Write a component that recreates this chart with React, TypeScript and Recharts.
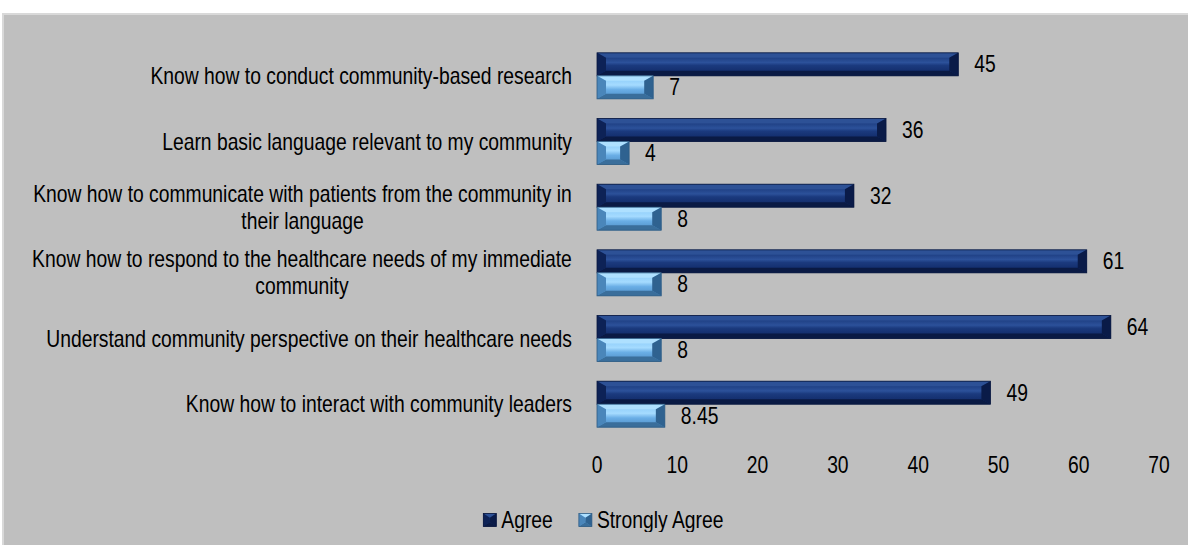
import React from "react";
import { BarChart, Bar, XAxis, YAxis, Legend, LabelList } from "recharts";

const FONT = "'Liberation Sans', Arial, sans-serif";
const FS = 23;
const SX = 0.84;

const categories = [
  "Know how to conduct community-based research",
  "Learn basic language relevant to my community",
  "Know how to communicate with patients from the community in\ntheir language",
  "Know how to respond to the healthcare needs of my immediate\ncommunity",
  "Understand community perspective on their healthcare needs",
  "Know how to interact with community leaders",
];
const agree = [45, 36, 32, 61, 64, 49];
const stronglyAgree = [7, 4, 8, 8, 8, 8.45];
const xTicks = [0, 10, 20, 30, 40, 50, 60, 70];
const seriesNames = ["Agree", "Strongly Agree"];

const data = categories.map((c, i) => ({ category: c, agree: agree[i], strong: stronglyAgree[i] }));

const PALETTES: Record<string, any> = {
  agree: { grad: "gAgree", top: "#2d5196", bottom: "#0a1a44", left: "#0d2256", right: "#0a1b48", stroke: "#0a183f" },
  strong: { grad: "gStrong", top: "#aee0ff", bottom: "#3a6e9b", left: "#4a86ba", right: "#2f6290", stroke: "#2f5b82" },
};

const BevelBar = (props: any) => {
  const { x, y, width, height, pal } = props;
  if (!width || width <= 0) return null;
  const p = PALETTES[pal];
  const bv = Math.min(5, height / 3);
  const bh = Math.min(9, width / 2);
  const x2 = x + width;
  const y2 = y + height;
  return (
    <g>
      <rect x={x} y={y} width={width} height={height} fill={`url(#${p.grad})`} />
      <polygon points={`${x},${y} ${x2},${y} ${x2 - bh},${y + bv} ${x + bh},${y + bv}`} fill={p.top} />
      <polygon points={`${x},${y2} ${x2},${y2} ${x2 - bh},${y2 - bv} ${x + bh},${y2 - bv}`} fill={p.bottom} />
      <polygon points={`${x},${y} ${x + bh},${y + bv} ${x + bh},${y2 - bv} ${x},${y2}`} fill={p.left} />
      <polygon points={`${x2},${y} ${x2 - bh},${y + bv} ${x2 - bh},${y2 - bv} ${x2},${y2}`} fill={p.right} />
      <rect x={x} y={y} width={width} height={height} fill="none" stroke={p.stroke} strokeWidth={0.8} />
    </g>
  );
};

let measureCtx: CanvasRenderingContext2D | null = null;
const measure = (t: string) => {
  if (!measureCtx) {
    measureCtx = document.createElement("canvas").getContext("2d");
  }
  if (!measureCtx) return t.length * FS * 0.5 * SX;
  measureCtx.font = `${FS}px ${FONT}`;
  return measureCtx.measureText(t).width * SX;
};

// narrow text: regular sans compressed horizontally
const NText = ({ x, y, anchor, dy, children }: any) => (
  <g transform={`translate(${x},${y}) scale(${SX},1)`}>
    <text x={0} y={0} dy={dy} textAnchor={anchor} fontSize={FS} fontFamily={FONT} fill="#000">
      {children}
    </text>
  </g>
);

const CategoryTick = (props: any) => {
  const { x, y, payload } = props;
  const lines: string[] = String(payload.value).split("\n");
  if (lines.length === 1) {
    return <NText x={x} y={y} dy="0.35em" anchor="end">{lines[0]}</NText>;
  }
  const w = Math.max(...lines.map(measure));
  const cx = x - w / 2;
  const lh = 27;
  const start = y - ((lines.length - 1) * lh) / 2;
  return (
    <g>
      {lines.map((l, i) => (
        <NText key={i} x={cx} y={start + i * lh} dy="0.35em" anchor="middle">
          {l}
        </NText>
      ))}
    </g>
  );
};

const ValueTick = (props: any) => {
  const { x, y, payload } = props;
  return <NText x={x} y={y} dy="0.71em" anchor="middle">{payload.value}</NText>;
};

const ValueLabel = (props: any) => {
  const { x, y, width, height, value } = props;
  return (
    <NText x={x + width + 16} y={y + height / 2} dy="0.35em" anchor="start">
      {value}
    </NText>
  );
};

const LegendContent = () => {
  const sq = 13;
  const gap = 5;
  const itemGap = 26;
  const w1 = measure(seriesNames[0]);
  const w2 = measure(seriesNames[1]);
  const total = sq + gap + w1 + itemGap + sq + gap + w2;
  const cx = 604;
  const x0 = cx - total / 2;
  const x1 = x0 + sq + gap + w1 + itemGap;
  return (
    <svg width={1188} height={24} style={{ display: "block" }}>
      <BevelBar x={x0} y={5.5} width={sq} height={sq} pal="agree" />
      <NText x={x0 + sq + gap} y={12} dy="0.35em" anchor="start">{seriesNames[0]}</NText>
      <BevelBar x={x1} y={5.5} width={sq} height={sq} pal="strong" />
      <NText x={x1 + sq + gap} y={12} dy="0.35em" anchor="start">{seriesNames[1]}</NText>
    </svg>
  );
};

export default function App() {
  return (
    <div style={{ position: "absolute", left: 0, top: 0, width: 1188, height: 545, background: "#fff", overflow: "hidden" }}>
      <div
        style={{
          position: "absolute",
          left: 2,
          top: 13,
          width: 1190,
          height: 540,
          background: "#bfbfbf",
          borderTop: "2px solid #d9d9d9",
          borderLeft: "2px solid #d9d9d9",
        }}
      />
      <div style={{ position: "absolute", left: 0, top: 0 }}>
        <BarChart
          width={1188}
          height={545}
          data={data}
          layout="vertical"
          margin={{ top: 43, right: 29, bottom: 13, left: 0 }}
          barGap={0}
          barCategoryGap="15%"
        >
          <defs>
            <linearGradient id="gAgree" x1="0" y1="0" x2="0" y2="1">
              <stop offset="0" stopColor="#13306f" />
              <stop offset="0.42" stopColor="#2c519a" />
              <stop offset="0.55" stopColor="#1b3a7e" />
              <stop offset="1" stopColor="#0e2560" />
            </linearGradient>
            <linearGradient id="gStrong" x1="0" y1="0" x2="0" y2="1">
              <stop offset="0" stopColor="#86c8f7" />
              <stop offset="0.4" stopColor="#a5dbff" />
              <stop offset="0.6" stopColor="#6aaee6" />
              <stop offset="1" stopColor="#4d8cc3" />
            </linearGradient>
          </defs>
          <XAxis
            type="number"
            domain={[0, 70]}
            ticks={xTicks}
            axisLine={false}
            tickLine={false}
            tickSize={0}
            tickMargin={20}
            height={71}
            tick={<ValueTick />}
            interval={0}
          />
          <YAxis
            type="category"
            dataKey="category"
            width={597}
            axisLine={false}
            tickLine={false}
            tickSize={0}
            tickMargin={25}
            tick={<CategoryTick />}
            interval={0}
          />
          <Legend verticalAlign="bottom" height={24} content={<LegendContent />} />
          <Bar dataKey="agree" name={seriesNames[0]} isAnimationActive={false} shape={<BevelBar pal="agree" />}>
            <LabelList dataKey="agree" content={<ValueLabel />} />
          </Bar>
          <Bar dataKey="strong" name={seriesNames[1]} isAnimationActive={false} shape={<BevelBar pal="strong" />}>
            <LabelList dataKey="strong" content={<ValueLabel />} />
          </Bar>
        </BarChart>
      </div>
    </div>
  );
}
